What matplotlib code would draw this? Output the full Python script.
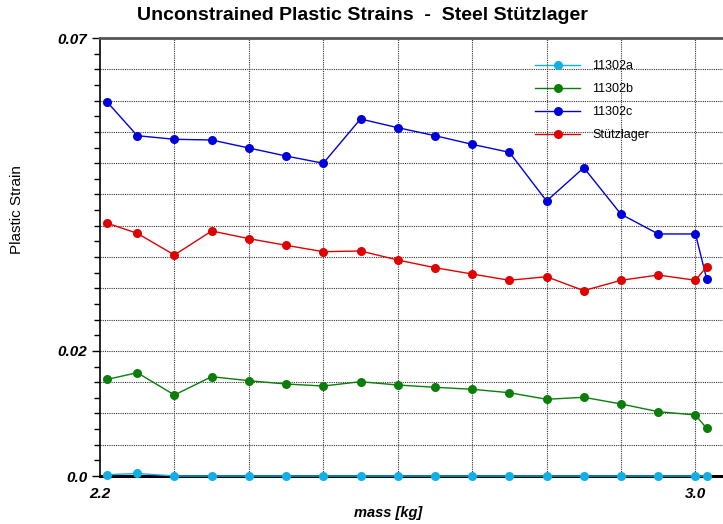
import matplotlib
matplotlib.use("Agg")
import matplotlib.pyplot as plt
from matplotlib.ticker import MultipleLocator, FixedLocator, FixedFormatter

# mass values [kg]
mass = [2.21, 2.25, 2.30, 2.35, 2.40, 2.45, 2.50, 2.55, 2.60, 2.65,
        2.70, 2.75, 2.80, 2.85, 2.90, 2.95, 3.00, 3.015]

strain_11302a = [0.0002, 0.0004, 0.0, 0.0, 0.0, 0.0, 0.0, 0.0, 0.0, 0.0,
                 0.0, 0.0, 0.0, 0.0, 0.0, 0.0, 0.0, 0.0]
strain_11302b = [0.01545, 0.01651, 0.01295, 0.01587, 0.01523, 0.01470, 0.01438,
                 0.01507, 0.01454, 0.01418, 0.01386, 0.01331, 0.01226, 0.01258,
                 0.01151, 0.01028, 0.00975, 0.00762]
strain_11302c = [0.05972, 0.05439, 0.05381, 0.05370, 0.05242, 0.05114, 0.04998,
                 0.05706, 0.05567, 0.05439, 0.05301, 0.05173, 0.04395, 0.04927,
                 0.04183, 0.03868, 0.03868, 0.03153]
strain_stuetz = [0.04039, 0.03879, 0.03532, 0.03916, 0.03793, 0.03687, 0.03585,
                 0.03596, 0.03452, 0.03329, 0.03228, 0.03128, 0.03185, 0.02962,
                 0.03128, 0.03212, 0.03128, 0.03345]

series_labels = ["11302a", "11302b", "11302c", "Stützlager"]
series_colors = ["#12aee8", "#0a7d0a", "#0000dd", "#e00000"]

y_tick_values = [0.0, 0.02, 0.07]
y_tick_labels = ["0.0", "0.02", "0.07"]
x_tick_values = [2.2, 3.0]
x_tick_labels = ["2.2", "3.0"]

narrow = ["Liberation Sans Narrow", "Liberation Sans", "DejaVu Sans"]
plain = ["Liberation Sans", "DejaVu Sans"]

fig = plt.figure(figsize=(7.23, 5.24), dpi=100)
ax = fig.add_axes([100 / 723, 48 / 524, 623 / 723, 438 / 524])

for vals, lab, col in zip([strain_11302a, strain_11302b, strain_11302c, strain_stuetz],
                          series_labels, series_colors):
    ax.plot(mass, vals, color=col, lw=1.0, marker="o", markersize=6.5,
            markeredgewidth=0, label=lab, clip_on=False, zorder=3)

ax.set_xlim(2.2, 3.037)
ax.set_ylim(0.0, 0.07)

# dotted grid: every 0.005 in strain, every 0.1 kg in mass
for y in [i * 0.005 for i in range(1, 14)]:
    ax.axhline(y, color="#333333", lw=0.8, linestyle=(0, (1, 1)), zorder=1)
for x in [2.3, 2.4, 2.5, 2.6, 2.7, 2.8, 2.9, 3.0]:
    ax.axvline(x, color="#333333", lw=0.8, linestyle=(0, (1, 1)), zorder=1)

# y ticks: labels only at selected values, small ticks every 0.0025
ax.yaxis.set_major_locator(FixedLocator(y_tick_values))
ax.yaxis.set_major_formatter(FixedFormatter(y_tick_labels))
ax.yaxis.set_minor_locator(MultipleLocator(0.0025))
ax.tick_params(axis="y", which="major", length=6, width=1, color="black", pad=3)
ax.tick_params(axis="y", which="minor", length=4, width=1, color="black")

ax.xaxis.set_major_locator(FixedLocator(x_tick_values))
ax.xaxis.set_major_formatter(FixedFormatter(x_tick_labels))
ax.tick_params(axis="x", which="both", length=0, pad=8)

for lbl in ax.get_xticklabels() + ax.get_yticklabels():
    lbl.set_family(narrow)
    lbl.set_fontweight("bold")
    lbl.set_fontstyle("italic")
    lbl.set_fontsize(11)

ax.spines["right"].set_visible(False)
ax.spines["top"].set_color("#555555")
ax.spines["top"].set_linewidth(2)
ax.spines["bottom"].set_color("black")
ax.spines["bottom"].set_linewidth(2.2)
ax.spines["left"].set_linewidth(1.2)

ax.set_xlabel("mass [kg]", family=narrow, fontweight="bold", fontstyle="italic",
              fontsize=10.5)
ax.xaxis.set_label_coords((388 - 100) / 623, (476 - 513) / 438)
ax.xaxis.label.set_va("center")
ax.set_ylabel("Plastic Strain", family=plain, fontsize=11)
ax.yaxis.set_label_coords((17 - 100) / 623, (476 - 210) / 438)
ax.yaxis.label.set_va("center")

fig.suptitle("Unconstrained Plastic Strains  -  Steel Stützlager", family=narrow,
             fontweight="bold", fontsize=14, x=362 / 723, y=1 - 15 / 524, va="center")

leg = ax.legend(loc="upper left", bbox_to_anchor=(530 / 723, 1 - 55 / 524),
                bbox_transform=fig.transFigure, frameon=False,
                prop={"family": plain, "size": 9}, handlelength=3.6,
                handletextpad=1.0, labelspacing=0.88, borderaxespad=0)

fig.savefig("out.png", dpi=100)
